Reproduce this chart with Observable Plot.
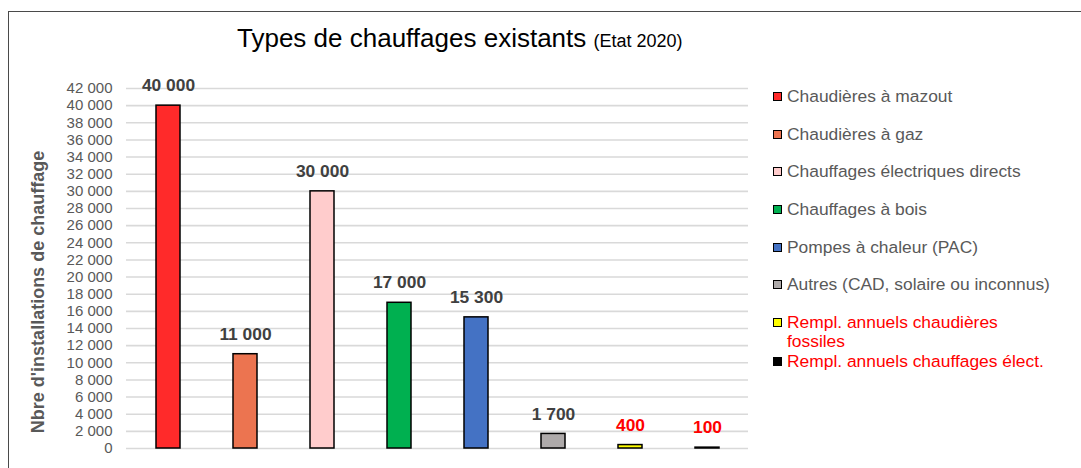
<!DOCTYPE html>
<html>
<head>
<meta charset="utf-8">
<script src="https://cdn.jsdelivr.net/npm/d3@7"></script>
<script src="https://cdn.jsdelivr.net/npm/@observablehq/plot@0.6"></script>
<style>
  html, body { margin: 0; padding: 0; background: #fff; }
  #wrap { position: relative; width: 1081px; height: 468px; overflow: hidden; font-family: "Liberation Sans", Arial, sans-serif; }
  #frame { position: absolute; left: 8px; top: 11px; width: 1200px; height: 600px; border: 1.4px solid #4a4a4a; box-sizing: border-box; }
  #chart { position: absolute; left: 0; top: 0; }
  #title { position: absolute; left: 237px; top: 23px; font-size: 26px; color: #000; white-space: nowrap; }
  #title span { font-size: 18px; }
  #ylab { position: absolute; left: 38px; top: 292px; transform: translate(-50%, -50%) rotate(-90deg); font-size: 18px; font-weight: bold; color: #595959; white-space: nowrap; }
  .leg { position: absolute; left: 773px; font-size: 17.4px; color: #595959; line-height: 19px; }
  .leg i { position: absolute; left: 0; top: 5px; width: 9px; height: 9px; border: 1.2px solid #000; box-sizing: border-box; }
  .leg div { margin-left: 14px; }
</style>
</head>
<body>
<div id="wrap">
  <div id="frame"></div>
  <div id="chart"></div>
  <div id="title">Types de chauffages existants <span>(Etat 2020)</span></div>
  <div id="ylab">Nbre d'installations de chauffage</div>
  <div id="legend"></div>
</div>
<script>
const categories = [
  "Chaudières à mazout",
  "Chaudières à gaz",
  "Chauffages électriques directs",
  "Chauffages à bois",
  "Pompes à chaleur (PAC)",
  "Autres (CAD, solaire ou inconnus)",
  "Rempl. annuels chaudières fossiles",
  "Rempl. annuels chauffages élect."
];
const values = [40000, 11000, 30000, 17000, 15300, 1700, 400, 100];
const colors = ["#ff2a2a", "#ec7450", "#ffcccc", "#00b050", "#4472c4", "#aeaaaa", "#ffff00", "#000000"];
const labelColors = ["#404040", "#404040", "#404040", "#404040", "#404040", "#404040", "#ff0000", "#ff0000"];
const legendTextColors = ["#595959", "#595959", "#595959", "#595959", "#595959", "#595959", "#ff0000", "#ff0000"];
const legendLines = [
  ["Chaudières à mazout"],
  ["Chaudières à gaz"],
  ["Chauffages électriques directs"],
  ["Chauffages à bois"],
  ["Pompes à chaleur (PAC)"],
  ["Autres (CAD, solaire ou inconnus)"],
  ["Rempl. annuels chaudières", "fossiles"],
  ["Rempl. annuels chauffages élect."]
];
const yTicks = d3.range(0, 42001, 2000);

const data = categories.map((c, i) => ({cat: c, value: values[i], color: colors[i], lc: labelColors[i]}));
const fmt = d => d3.format(",")(d).replace(/,/g, " ");

const chart = Plot.plot({
  width: 1081,
  height: 468,
  marginLeft: 126,
  marginRight: 333,
  marginTop: 88,
  marginBottom: 20,
  style: {fontFamily: "Liberation Sans, Arial, sans-serif", background: "transparent"},
  x: {domain: categories, paddingInner: 0.69, paddingOuter: 0.345, axis: null},
  y: {domain: [0, 42000], axis: null},
  marks: [
    Plot.gridY(yTicks, {stroke: "#d9d9d9", strokeOpacity: 1, strokeWidth: 1.6}),
    Plot.axisY(yTicks, {tickSize: 0, tickPadding: 14, tickFormat: fmt, fontSize: 15, color: "#595959", label: null}),
    Plot.barY(data, {x: "cat", y: "value", fill: "color", stroke: "#000", strokeWidth: 1.5}),
    Plot.text(data, {x: "cat", y: "value", text: d => fmt(d.value), fill: "lc", dy: -20, fontSize: 17.4, fontWeight: "bold"})
  ]
});
document.getElementById("chart").appendChild(chart);

const legendY = [87, 125, 162, 200, 238, 275, 313, 352];
const leg = document.getElementById("legend");
legendLines.forEach((lines, i) => {
  const el = document.createElement("div");
  el.className = "leg";
  el.style.top = legendY[i] + "px";
  el.style.color = legendTextColors[i];
  const sw = document.createElement("i");
  sw.style.background = colors[i];
  el.appendChild(sw);
  const t = document.createElement("div");
  t.innerHTML = lines.join("<br>");
  el.appendChild(t);
  leg.appendChild(el);
});
</script>
</body>
</html>
